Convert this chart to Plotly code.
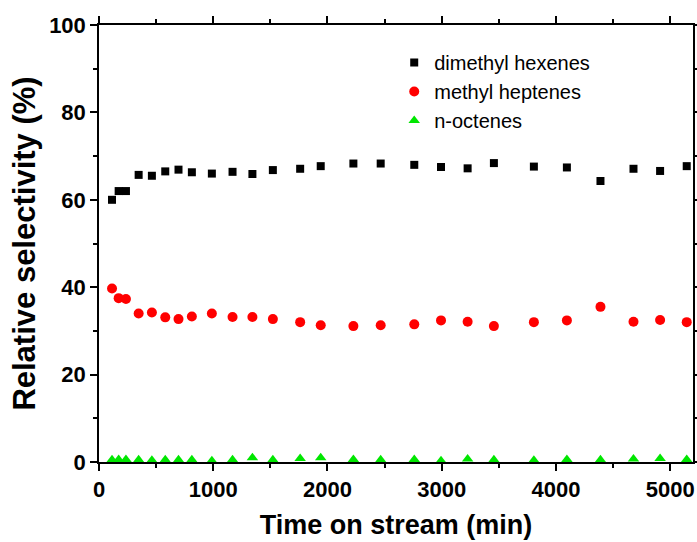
import plotly.graph_objects as go

time_min = [114, 172, 236, 347, 463, 580, 696, 813, 988, 1169, 1343, 1522, 1761, 1941,
            2227, 2466, 2760, 2994, 3227, 3457, 3807, 4096, 4390, 4679, 4912, 5145]
dimethyl_hexenes = [60.0, 62.0, 62.0, 65.7, 65.5, 66.5, 66.9, 66.3, 66.0, 66.4, 65.9, 66.8, 67.1, 67.7,
                    68.3, 68.3, 68.0, 67.5, 67.2, 68.4, 67.6, 67.4, 64.3, 67.1, 66.6, 67.7]
methyl_heptenes = [39.7, 37.5, 37.3, 34.0, 34.2, 33.1, 32.7, 33.3, 34.0, 33.2, 33.2, 32.7, 32.0, 31.3,
                   31.1, 31.3, 31.5, 32.4, 32.1, 31.1, 32.0, 32.4, 35.5, 32.1, 32.5, 32.0]
n_octenes = [0.5, 0.6, 0.6, 0.5, 0.4, 0.5, 0.5, 0.5, 0.3, 0.5, 1.0, 0.5, 0.8, 1.0,
             0.6, 0.5, 0.6, 0.3, 0.7, 0.5, 0.4, 0.6, 0.5, 0.7, 0.8, 0.6]

x_ticks = [0, 1000, 2000, 3000, 4000, 5000]
y_ticks = [0, 20, 40, 60, 80, 100]

font_family = "Liberation Sans, Arial, sans-serif"

fig = go.Figure()
fig.add_trace(go.Scatter(x=time_min, y=dimethyl_hexenes, mode="markers", name="dimethyl hexenes",
                         marker=dict(symbol="square", size=8, color="black")))
fig.add_trace(go.Scatter(x=time_min, y=methyl_heptenes, mode="markers", name="methyl heptenes",
                         marker=dict(symbol="circle", size=10, color="#ff0000")))
fig.add_trace(go.Scatter(x=time_min, y=n_octenes, mode="markers", name="n-octenes",
                         marker=dict(symbol="triangle-up", size=10, color="#00e600")))

axis_common = dict(
    showline=True, linecolor="black", linewidth=1.5, mirror="allticks",
    ticks="outside", ticklen=7, tickwidth=1.5, tickcolor="black",
    showgrid=False, zeroline=False, automargin=False,
    tickfont=dict(family=font_family, size=22, color="black", weight="bold"),
)

fig.update_xaxes(range=[0, 5200], tickvals=x_ticks,
                 minor=dict(dtick=500, ticks="outside", ticklen=4, tickwidth=1.5, tickcolor="black"),
                 title=dict(text="Time on stream (min)", standoff=14,
                            font=dict(family=font_family, size=27, color="black", weight="bold")),
                 **axis_common)
fig.update_yaxes(range=[0, 100], tickvals=y_ticks,
                 minor=dict(dtick=10, ticks="outside", ticklen=4, tickwidth=1.5, tickcolor="black"),
                 title=dict(text="Relative selectivity (%)", standoff=4,
                            font=dict(family=font_family, size=31, color="black", weight="bold")),
                 **axis_common)

fig.update_layout(
    width=697, height=542,
    margin=dict(l=99, r=4, t=25, b=80, autoexpand=False),
    plot_bgcolor="white", paper_bgcolor="white",
    showlegend=True,
    legend=dict(x=0.497, y=0.959, xanchor="left", yanchor="top",
                bgcolor="rgba(0,0,0,0)", tracegroupgap=0,
                font=dict(family=font_family, size=20, color="black")),
)

fig.write_html("out.html",
               config={"displayModeBar": False},
               post_script="document.body.style.margin='0';document.body.style.overflow='hidden';")
